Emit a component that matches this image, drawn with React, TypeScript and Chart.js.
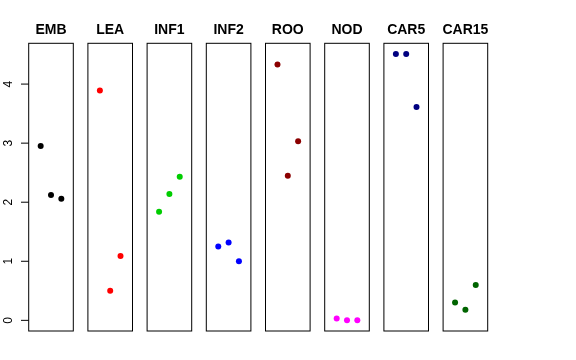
import React, { useEffect, useRef } from "react";
import { Chart, registerables } from "chart.js";
Chart.register(...registerables);

// ---- data ----
const panelNames = ["EMB", "LEA", "INF1", "INF2", "ROO", "NOD", "CAR5", "CAR15"];
const panelColors = ["#000000", "#FF0000", "#00CD00", "#0000FF", "#8B0000", "#FF00FF", "#000080", "#006400"];
const replicates = [1, 2, 3];
const EMB = [2.95, 2.12, 2.06];
const LEA = [3.89, 0.5, 1.09];
const INF1 = [1.84, 2.14, 2.43];
const INF2 = [1.25, 1.32, 1.0];
const ROO = [4.33, 2.45, 3.03];
const NOD = [0.03, 0.0, 0.0];
const CAR5 = [4.51, 4.51, 3.61];
const CAR15 = [0.3, 0.18, 0.6];
const panelValues = [EMB, LEA, INF1, INF2, ROO, NOD, CAR5, CAR15];
const yTicks = [0, 1, 2, 3, 4];

// ---- layout ----
const W = 576;
const H = 360;
const PANEL_LEFT0 = 28.7;
const PANEL_STEP = 59.2;
const PANEL_W = 44.6;
const PANEL_TOP = 43.3;
const PANEL_BOTTOM = 331;
const FONT = '"Liberation Sans", Arial, Helvetica, sans-serif';

const allVals = panelValues.flat();
const yMinData = Math.min(...allVals);
const yMaxData = Math.max(...allVals);
const yExt = (yMaxData - yMinData) * 0.04;
const X_MIN = 0 - 4 * 0.04;
const X_MAX = 4 + 4 * 0.04;

function Panel({ index }: { index: number }) {
  const ref = useRef<HTMLCanvasElement | null>(null);
  useEffect(() => {
    const canvas = ref.current;
    if (!canvas) return;
    const left = PANEL_LEFT0 + index * PANEL_STEP;
    const vals = panelValues[index];
    const color = panelColors[index];
    const title = panelNames[index];
    const framePlugin = {
      id: "frame" + index,
      afterDraw(chart: any) {
        const ctx = chart.ctx;
        const a = chart.chartArea;
        ctx.save();
        ctx.strokeStyle = "#000";
        ctx.lineWidth = 1;
        ctx.strokeRect(a.left, a.top, a.right - a.left, a.bottom - a.top);
        ctx.fillStyle = "#000";
        ctx.font = "bold 14px " + FONT;
        ctx.textAlign = "center";
        ctx.textBaseline = "alphabetic";
        ctx.fillText(title, (a.left + a.right) / 2, 34);
        if (index === 0) {
          const ys = chart.scales.y;
          ctx.font = "12px " + FONT;
          ctx.beginPath();
          for (const t of yTicks) {
            const py = ys.getPixelForValue(t);
            ctx.moveTo(a.left - 7.7, py);
            ctx.lineTo(a.left, py);
          }
          ctx.stroke();
          for (const t of yTicks) {
            const py = ys.getPixelForValue(t);
            ctx.save();
            ctx.translate(12.3, py);
            ctx.rotate(-Math.PI / 2);
            ctx.textAlign = "center";
            ctx.textBaseline = "alphabetic";
            ctx.fillText(String(t), 0, 0);
            ctx.restore();
          }
        }
        ctx.restore();
      },
    };
    const chart = new Chart(canvas, {
      type: "scatter",
      data: {
        datasets: [
          {
            data: replicates.map((x, j) => ({ x, y: vals[j] })),
            backgroundColor: color,
            borderColor: color,
            borderWidth: 0,
            pointRadius: 3,
            pointHoverRadius: 3,
          },
        ],
      },
      options: {
        animation: false,
        responsive: false,
        events: [],
        layout: {
          padding: {
            left: left,
            right: W - left - PANEL_W,
            top: PANEL_TOP,
            bottom: H - PANEL_BOTTOM,
          },
        },
        scales: {
          x: { type: "linear", display: false, min: X_MIN, max: X_MAX },
          y: { type: "linear", display: false, min: yMinData - yExt, max: yMaxData + yExt },
        },
        plugins: {
          legend: { display: false },
          tooltip: { enabled: false },
          title: { display: false },
        },
      },
      plugins: [framePlugin],
    } as any);
    return () => chart.destroy();
  }, [index]);
  return (
    <canvas
      ref={ref}
      width={W}
      height={H}
      style={{ position: "absolute", left: 0, top: 0, width: W, height: H }}
    />
  );
}

export default function App() {
  return (
    <div
      style={{
        position: "fixed",
        left: 0,
        top: 0,
        width: W,
        height: H,
        background: "#fff",
      }}
    >
      {panelNames.map((_, i) => (
        <Panel key={i} index={i} />
      ))}
    </div>
  );
}
